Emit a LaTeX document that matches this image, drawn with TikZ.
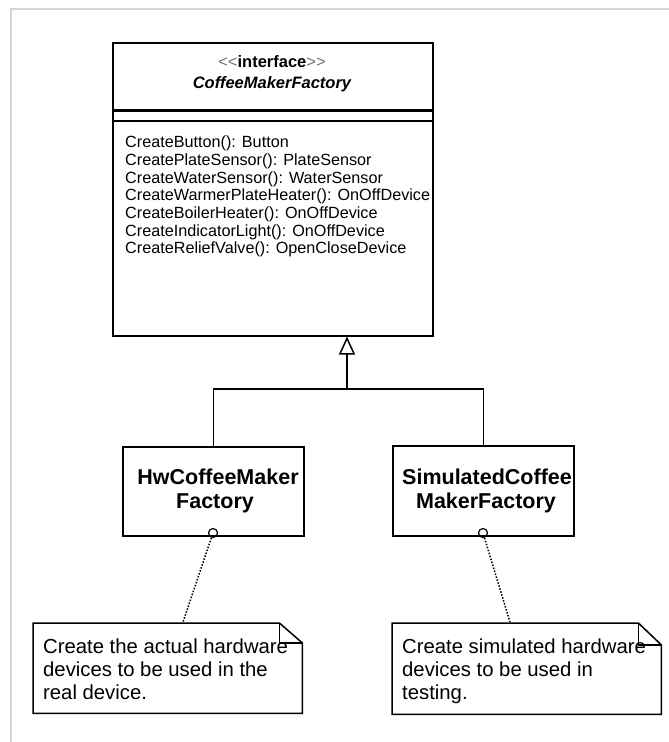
\documentclass[tikz,border=0pt]{standalone}
\usepackage{fontspec}
\setmainfont{Liberation Sans}
\usetikzlibrary{arrows.meta,calc}

\tikzset{
  umlbox/.style={draw, line width=1.5pt, inner sep=0pt, anchor=north west},
  notebox/.style={inner sep=0pt, anchor=north west},
  optxt/.style={font=\fontsize{16.2}{17.7}\selectfont, inner sep=0pt, anchor=base west},
  notetxt/.style={font=\fontsize{20.3}{23}\selectfont, inner sep=0pt, anchor=base west},
  cname/.style={font=\fontsize{21.5}{24}\selectfont\bfseries, inner sep=0pt, anchor=base},
  link/.style={line width=1.5pt},
  anchorcircle/.style={circle, draw, line width=1.2pt, minimum size=9pt, inner sep=0pt},
  notelink/.style={line width=1.5pt, dash pattern=on 1.5pt off 1.6pt},
  frameline/.style={line width=2pt, draw={rgb,255:red,212;green,212;blue,212}}
}

\begin{document}
\begin{tikzpicture}[x=1pt, y=-1pt]
  \fill[white] (0,0) rectangle (669,742);
  \useasboundingbox (0,0) rectangle (669,742);

  % window frame
  \draw[frameline] (10.5,742) -- (10.5,8.5) -- (669,8.5);

  % interface class
  \node[umlbox, minimum width=320pt, minimum height=293pt] (iface) at (112,42) {};
  \draw[line width=3pt] ($(iface.north west)+(0,68)$) -- ($(iface.north east)+(0,68)$);
  \draw[line width=1.3pt] ($(iface.north west)+(0,79)$) -- ($(iface.north east)+(0,79)$);
  \node[font=\fontsize{16.5}{20}\selectfont, inner sep=0pt, anchor=base] (stereo) at (272,67)
    {\textcolor{black!55}{<{}<}\textbf{interface}\textcolor{black!55}{>{}>}};
  \node[font=\fontsize{16.5}{20}\selectfont\bfseries\itshape, inner sep=0pt, anchor=base] (iname) at (272,88.5)
    {CoffeeMakerFactory};
  \foreach \t [count=\i] in {
      {CreateButton(): Button},
      {CreatePlateSensor(): PlateSensor},
      {CreateWaterSensor(): WaterSensor},
      {CreateWarmerPlateHeater(): OnOffDevice},
      {CreateBoilerHeater(): OnOffDevice},
      {CreateIndicatorLight(): OnOffDevice},
      {CreateReliefValve(): OpenCloseDevice}}
    \node[optxt] (m\i) at (125, {147.7+17.7*(\i-1)}) {\t};

  % concrete factories
  \node[umlbox, minimum width=181pt, minimum height=89pt] (hw) at (122,446) {};
  \node[cname] (hwa) at (218,484) {HwCoffeeMaker};
  \node[cname] (hwb) at (215,508) {Factory};

  \node[umlbox, minimum width=181pt, minimum height=90pt] (sim) at (392,445) {};
  \node[cname] (sima) at (487,484) {SimulatedCoffee};
  \node[cname] (simb) at (486,508) {MakerFactory};

  % generalization
  \coordinate (join) at (347,389);
  \draw[link] (hw.north) |- (join) -| (sim.north);
  \draw[link, -{Triangle[open, length=18pt, width=16pt]}] (join) -- (join |- iface.south);

  % notes
  \node[notebox, minimum width=269pt, minimum height=90pt] (n1) at (33,623) {};
  \draw[line width=1.5pt] (n1.north west) -- ($(n1.north east)+(-23,0)$) -- ($(n1.north east)+(0,20)$)
    -- (n1.south east) -- (n1.south west) -- cycle;
  \draw[line width=1.3pt] ($(n1.north east)+(-23,0)$) |- ($(n1.north east)+(0,20)$);
  \node[notetxt] (n1a) at (43,653) {Create the actual hardware};
  \node[notetxt] (n1b) at (43,676) {devices to be used in the};
  \node[notetxt] (n1c) at (43,699) {real device.};

  \node[notebox, minimum width=269pt, minimum height=91pt] (n2) at (392,623) {};
  \draw[line width=1.5pt] (n2.north west) -- ($(n2.north east)+(-23,0)$) -- ($(n2.north east)+(0,22)$)
    -- (n2.south east) -- (n2.south west) -- cycle;
  \draw[line width=1.3pt] ($(n2.north east)+(-23,0)$) |- ($(n2.north east)+(0,22)$);
  \node[notetxt] (n2a) at (402,653) {Create simulated hardware};
  \node[notetxt] (n2b) at (402,676) {devices to be used in};
  \node[notetxt] (n2c) at (402,699) {testing.};

  % note attachments
  \node[anchorcircle] (c1) at (213,533) {};
  \node[anchorcircle] (c2) at (483,533) {};
  \coordinate (n1top) at (183,622);
  \coordinate (n2top) at (510,622);
  \draw[notelink] (c1) -- (n1top);
  \draw[notelink] (c2) -- (n2top);
\end{tikzpicture}
\end{document}
